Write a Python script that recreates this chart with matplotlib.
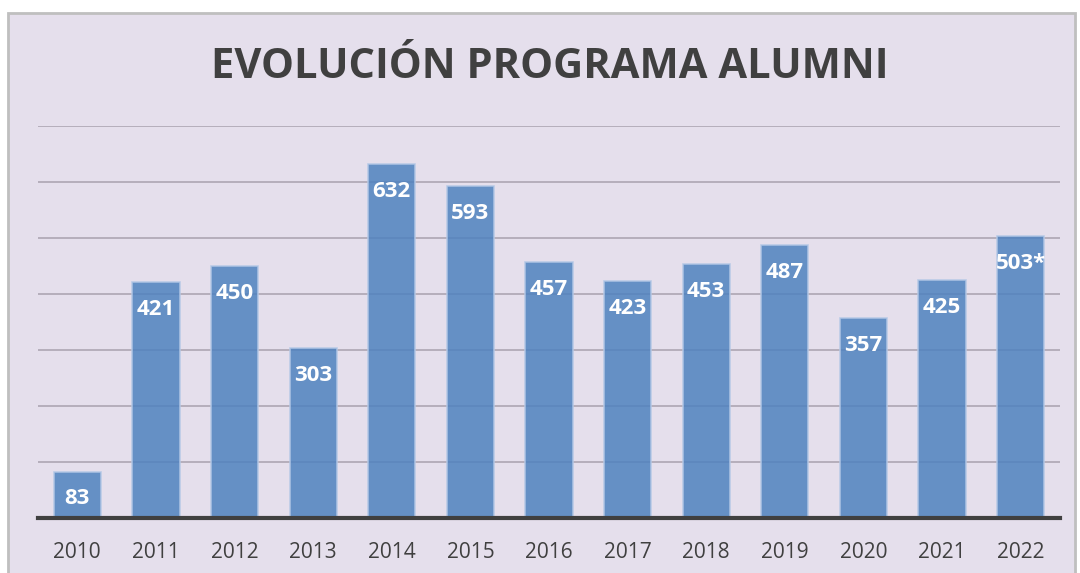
import matplotlib.pyplot as plt
from matplotlib.patches import Rectangle

years = ["2010", "2011", "2012", "2013", "2014", "2015", "2016",
         "2017", "2018", "2019", "2020", "2021", "2022"]
alumni = [83, 421, 450, 303, 632, 593, 457, 423, 453, 487, 357, 425, 503]
labels = ["83", "421", "450", "303", "632", "593", "457",
          "423", "453", "487", "357", "425", "503*"]

BG = "#E5DFEC"
BAR = "#4F82BF"

plt.rcParams["font.family"] = ["Open Sans", "DejaVu Sans"]

fig = plt.figure(figsize=(10.8, 5.73), dpi=100)
fig.patch.set_facecolor("white")
# chart frame behind everything
fig.patches.append(Rectangle((8 / 1080, -0.1), 1067 / 1080, 1.1 - 13 / 573,
                             transform=fig.transFigure, facecolor=BG,
                             edgecolor="#BFBFBF", linewidth=2, zorder=-10))

ax = fig.add_axes([38 / 1080, 55 / 573, 1022 / 1080, 392 / 573])
ax.set_zorder(1)
ax.set_facecolor("none")

x = range(len(years))
ax.bar(x, alumni, width=0.6, color=BAR, alpha=0.85,
       edgecolor="#B4C8E6", linewidth=1.2, zorder=2)

for i, (v, lab) in enumerate(zip(alumni, labels)):
    ax.annotate(lab, (i, v), xytext=(0, -12), textcoords="offset points",
                ha="center", va="top", color="white", fontsize=16,
                fontweight="bold", zorder=4)

ax.set_xlim(-0.5, 12.5)
ax.set_ylim(0, 700)
ax.set_yticks(range(100, 701, 100))
ax.yaxis.grid(True, color="#B5AEBB", linewidth=1.4, zorder=1)
ax.set_axisbelow(True)
ax.tick_params(axis="y", left=False, labelleft=False)
ax.tick_params(axis="x", bottom=False, labelsize=15, labelcolor="#404040", pad=14)
ax.set_xticks(list(x))
ax.set_xticklabels(years)

for s in ["top", "right", "left"]:
    ax.spines[s].set_visible(False)
ax.spines["bottom"].set_color("#404040")
ax.spines["bottom"].set_linewidth(3)
ax.spines["bottom"].set_zorder(5)

fig.text(0.509, 0.882, "EVOLUCIÓN PROGRAMA ALUMNI", ha="center", va="center",
         fontsize=30, fontweight="bold", color="#404040")

fig.savefig("out.png", dpi=100, facecolor=fig.get_facecolor())
